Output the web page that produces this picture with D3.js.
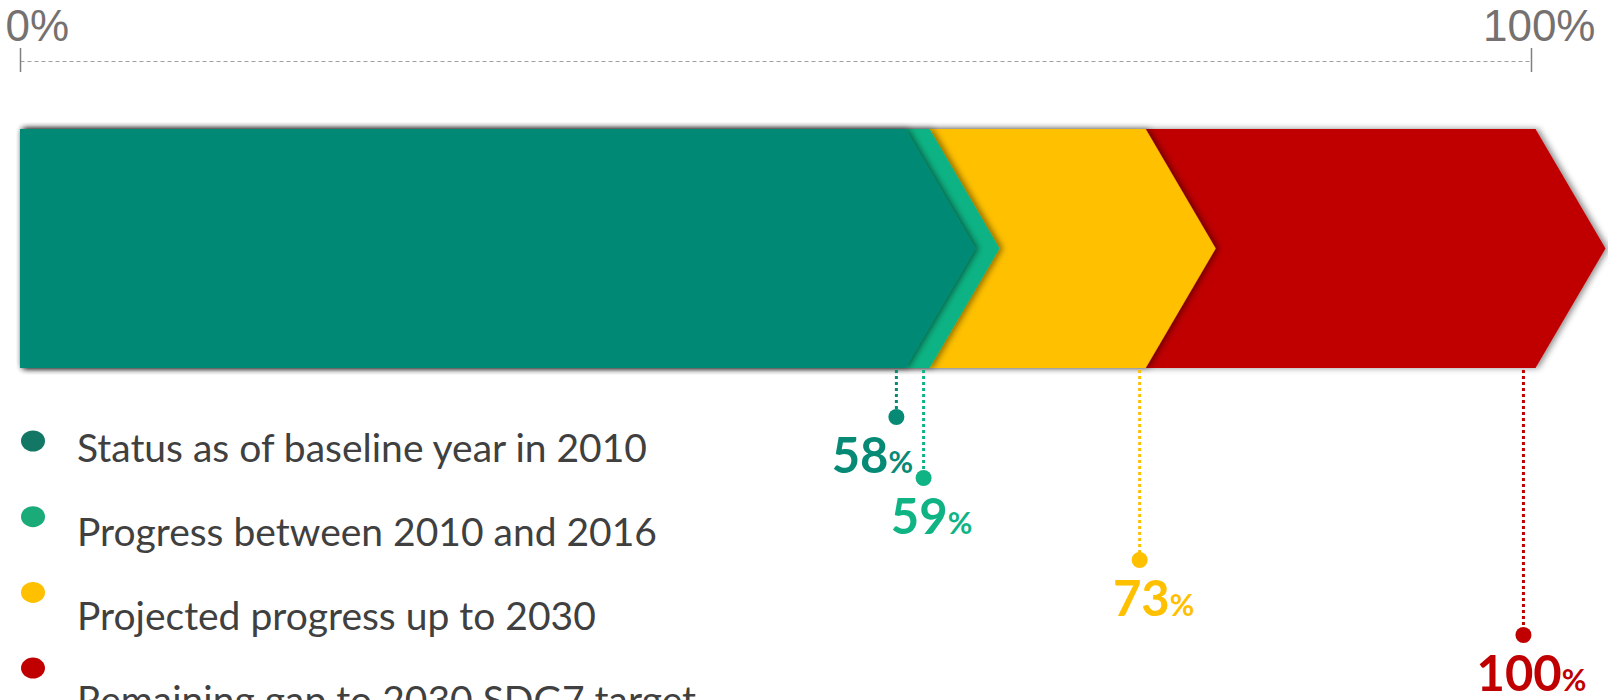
<!DOCTYPE html>
<html>
<head>
<meta charset="utf-8">
<script src="https://cdn.jsdelivr.net/npm/d3@7"></script>
<style>
  html, body { margin: 0; padding: 0; background: #ffffff; }
  svg { display: block; }
</style>
</head>
<body>
<svg id="chart" width="1608" height="700"></svg>
<script>
// ---- data ----
const categories = [
  "Status as of baseline year in 2010",
  "Progress between 2010 and 2016",
  "Projected progress up to 2030",
  "Remaining gap to 2030 SDG7 target"
];
const labelValues = [58, 59, 73, 100];          // printed percentages
const markerPositions = [58.0, 59.8, 74.1, 99.5]; // where the dotted markers sit (% of axis)
const segmentEnds = [58.6, 60.2, 74.5, 100.3];    // back edge of each chevron (% of axis)
const axisTicks = [0, 100];
const colors = ["#068A76", "#10B384", "#FFC000", "#C00000"];
const legendColors = ["#127865", "#1AAB78", "#FFC000", "#C00000"];

// ---- layout ----
const svg = d3.select("#chart");
const x = d3.scaleLinear().domain([0, 100]).range([20, 1531]);
const barTop = 129, barBottom = 368, barMid = (barTop + barBottom) / 2;
const tipDepth = 70;
const markerDotY = [417, 478, 560, 635];
const labelDx = [-24, 8, 14, 8];

// shadow filter
const defs = svg.append("defs");
const f = defs.append("filter").attr("id", "shadow")
  .attr("x", "-5%").attr("y", "-10%").attr("width", "110%").attr("height", "120%");
f.append("feDropShadow").attr("dx", 3).attr("dy", 0).attr("stdDeviation", 3)
  .attr("flood-color", "#000").attr("flood-opacity", 0.45);

// ---- axis ----
const axisG = svg.append("g").attr("transform", "translate(0,61)")
  .call(d3.axisTop(x).tickValues(axisTicks).tickFormat(d => d + "%").tickSize(0).tickPadding(0));
axisG.select(".domain").attr("stroke", "#A0A0A0").attr("stroke-width", 1.2)
  .attr("stroke-dasharray", "4,3");
axisG.selectAll(".tick line").attr("y1", -13).attr("y2", 11)
  .attr("stroke", "#7F7F7F").attr("stroke-width", 1.5);
axisG.selectAll(".tick text")
  .attr("font-family", "'Liberation Sans', Arial, sans-serif")
  .attr("font-weight", 400)
  .attr("font-size", 44)
  .attr("fill", "#767171")
  .attr("y", -20)
  .attr("text-anchor", (d, i) => i === 0 ? "start" : "end")
  .attr("dx", (d, i) => i === 0 ? -15 : 64)
  .attr("dy", 0);

// ---- chevrons ----
const chevron = e => {
  const p = d3.path();
  p.moveTo(x(0), barTop);
  p.lineTo(x(e), barTop);
  p.lineTo(x(e) + tipDepth, barMid);
  p.lineTo(x(e), barBottom);
  p.lineTo(x(0), barBottom);
  p.closePath();
  return p.toString();
};
const segData = segmentEnds.map((e, i) => ({ e, i }));
svg.append("g").selectAll("path")
  .data(segData.slice().reverse())
  .join("path")
  .attr("d", d => chevron(d.e))
  .attr("fill", d => colors[d.i])
  .attr("filter", "url(#shadow)");

// ---- markers ----
const mk = svg.append("g");
markerPositions.forEach((m, i) => {
  const cx = x(m);
  mk.append("line")
    .attr("x1", cx).attr("x2", cx)
    .attr("y1", barBottom + 2).attr("y2", markerDotY[i] - 6)
    .attr("stroke", colors[i]).attr("stroke-width", 3)
    .attr("stroke-dasharray", "3,3");
  mk.append("circle").attr("cx", cx).attr("cy", markerDotY[i]).attr("r", 8)
    .attr("fill", colors[i]);
  const t = mk.append("text")
    .attr("x", cx + labelDx[i]).attr("y", markerDotY[i] + 56)
    .attr("text-anchor", "middle")
    .attr("font-family", "Lato, 'Open Sans', sans-serif")
    .attr("font-weight", 700)
    .attr("fill", colors[i]);
  t.append("tspan").attr("font-size", 49).text(labelValues[i]);
  t.append("tspan").attr("font-size", 30).text("%");
});

// ---- legend ----
const lg = svg.append("g");
categories.forEach((c, i) => {
  lg.append("ellipse").attr("cx", 33).attr("cy", 441 + i * 75.7)
    .attr("rx", 12).attr("ry", 10.5).attr("fill", legendColors[i]);
  lg.append("text").attr("x", 77).attr("y", 462 + i * 84)
    .attr("font-family", "Lato, 'Open Sans', sans-serif")
    .attr("font-size", 39)
    .attr("fill", "#404040")
    .text(c);
});
</script>
</body>
</html>
